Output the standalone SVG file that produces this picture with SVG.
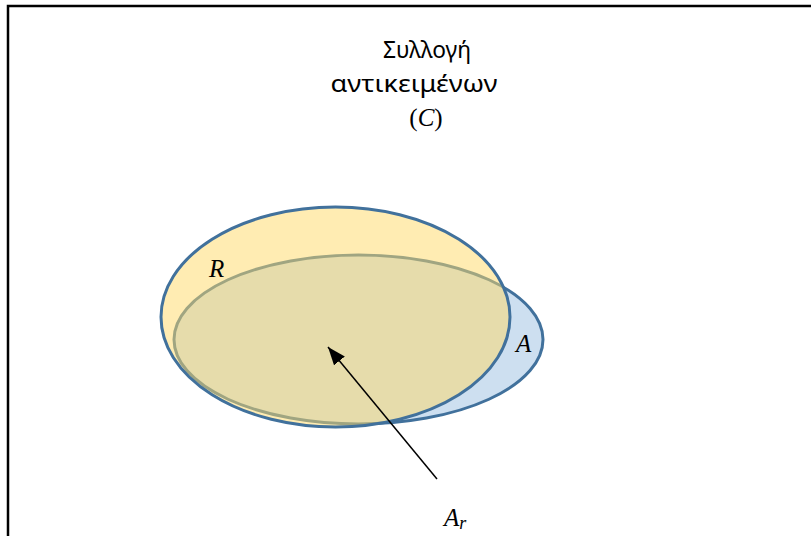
<svg xmlns="http://www.w3.org/2000/svg" width="811" height="536" viewBox="0 0 811 536">
<style>
.t{font-family:"Noto Sans","Open Sans",sans-serif;font-size:23px;fill:#000;text-anchor:middle}
.m{font-family:"Liberation Serif","DejaVu Serif",serif;font-style:italic;font-size:25px;fill:#000}
.set{stroke:#41719c;stroke-width:3}
</style>
<defs>
<marker id="ah" viewBox="0 0 18 14" refX="18" refY="7" markerWidth="18" markerHeight="14" markerUnits="userSpaceOnUse" orient="auto">
<path d="M0,0 L18,7 L0,14 z" fill="#000"/>
</marker>
</defs>
<rect x="8" y="6" width="830" height="560" fill="#fff" stroke="#000" stroke-width="2.5"/>
<g id="title">
<text class="t" x="427" y="58" textLength="88" lengthAdjust="spacingAndGlyphs">Συλλογή</text>
<text class="t" x="414" y="92" textLength="167" lengthAdjust="spacingAndGlyphs">αντικειμένων</text>
<text class="m" x="426" y="126" text-anchor="middle"><tspan font-style="normal">(</tspan>C<tspan font-style="normal">)</tspan></text>
</g>
<g id="setA">
<ellipse class="set" cx="358.5" cy="339.5" rx="184.5" ry="84.5" fill="#cddff0"/>
</g>
<g id="setR">
<ellipse class="set" cx="335.5" cy="317" rx="174.5" ry="110" fill="#ffd966" fill-opacity="0.5"/>
<text class="m" x="209" y="277">R</text>
</g>
<g id="labelA">
<text class="m" x="516" y="352">A</text>
</g>
<g id="connectors">
<line x1="437" y1="479" x2="328" y2="347" stroke="#000" stroke-width="1.5" marker-end="url(#ah)"/>
</g>
<g id="labelAr">
<text class="m" x="444" y="526">A<tspan font-size="18" dy="3">r</tspan></text>
</g>
</svg>
